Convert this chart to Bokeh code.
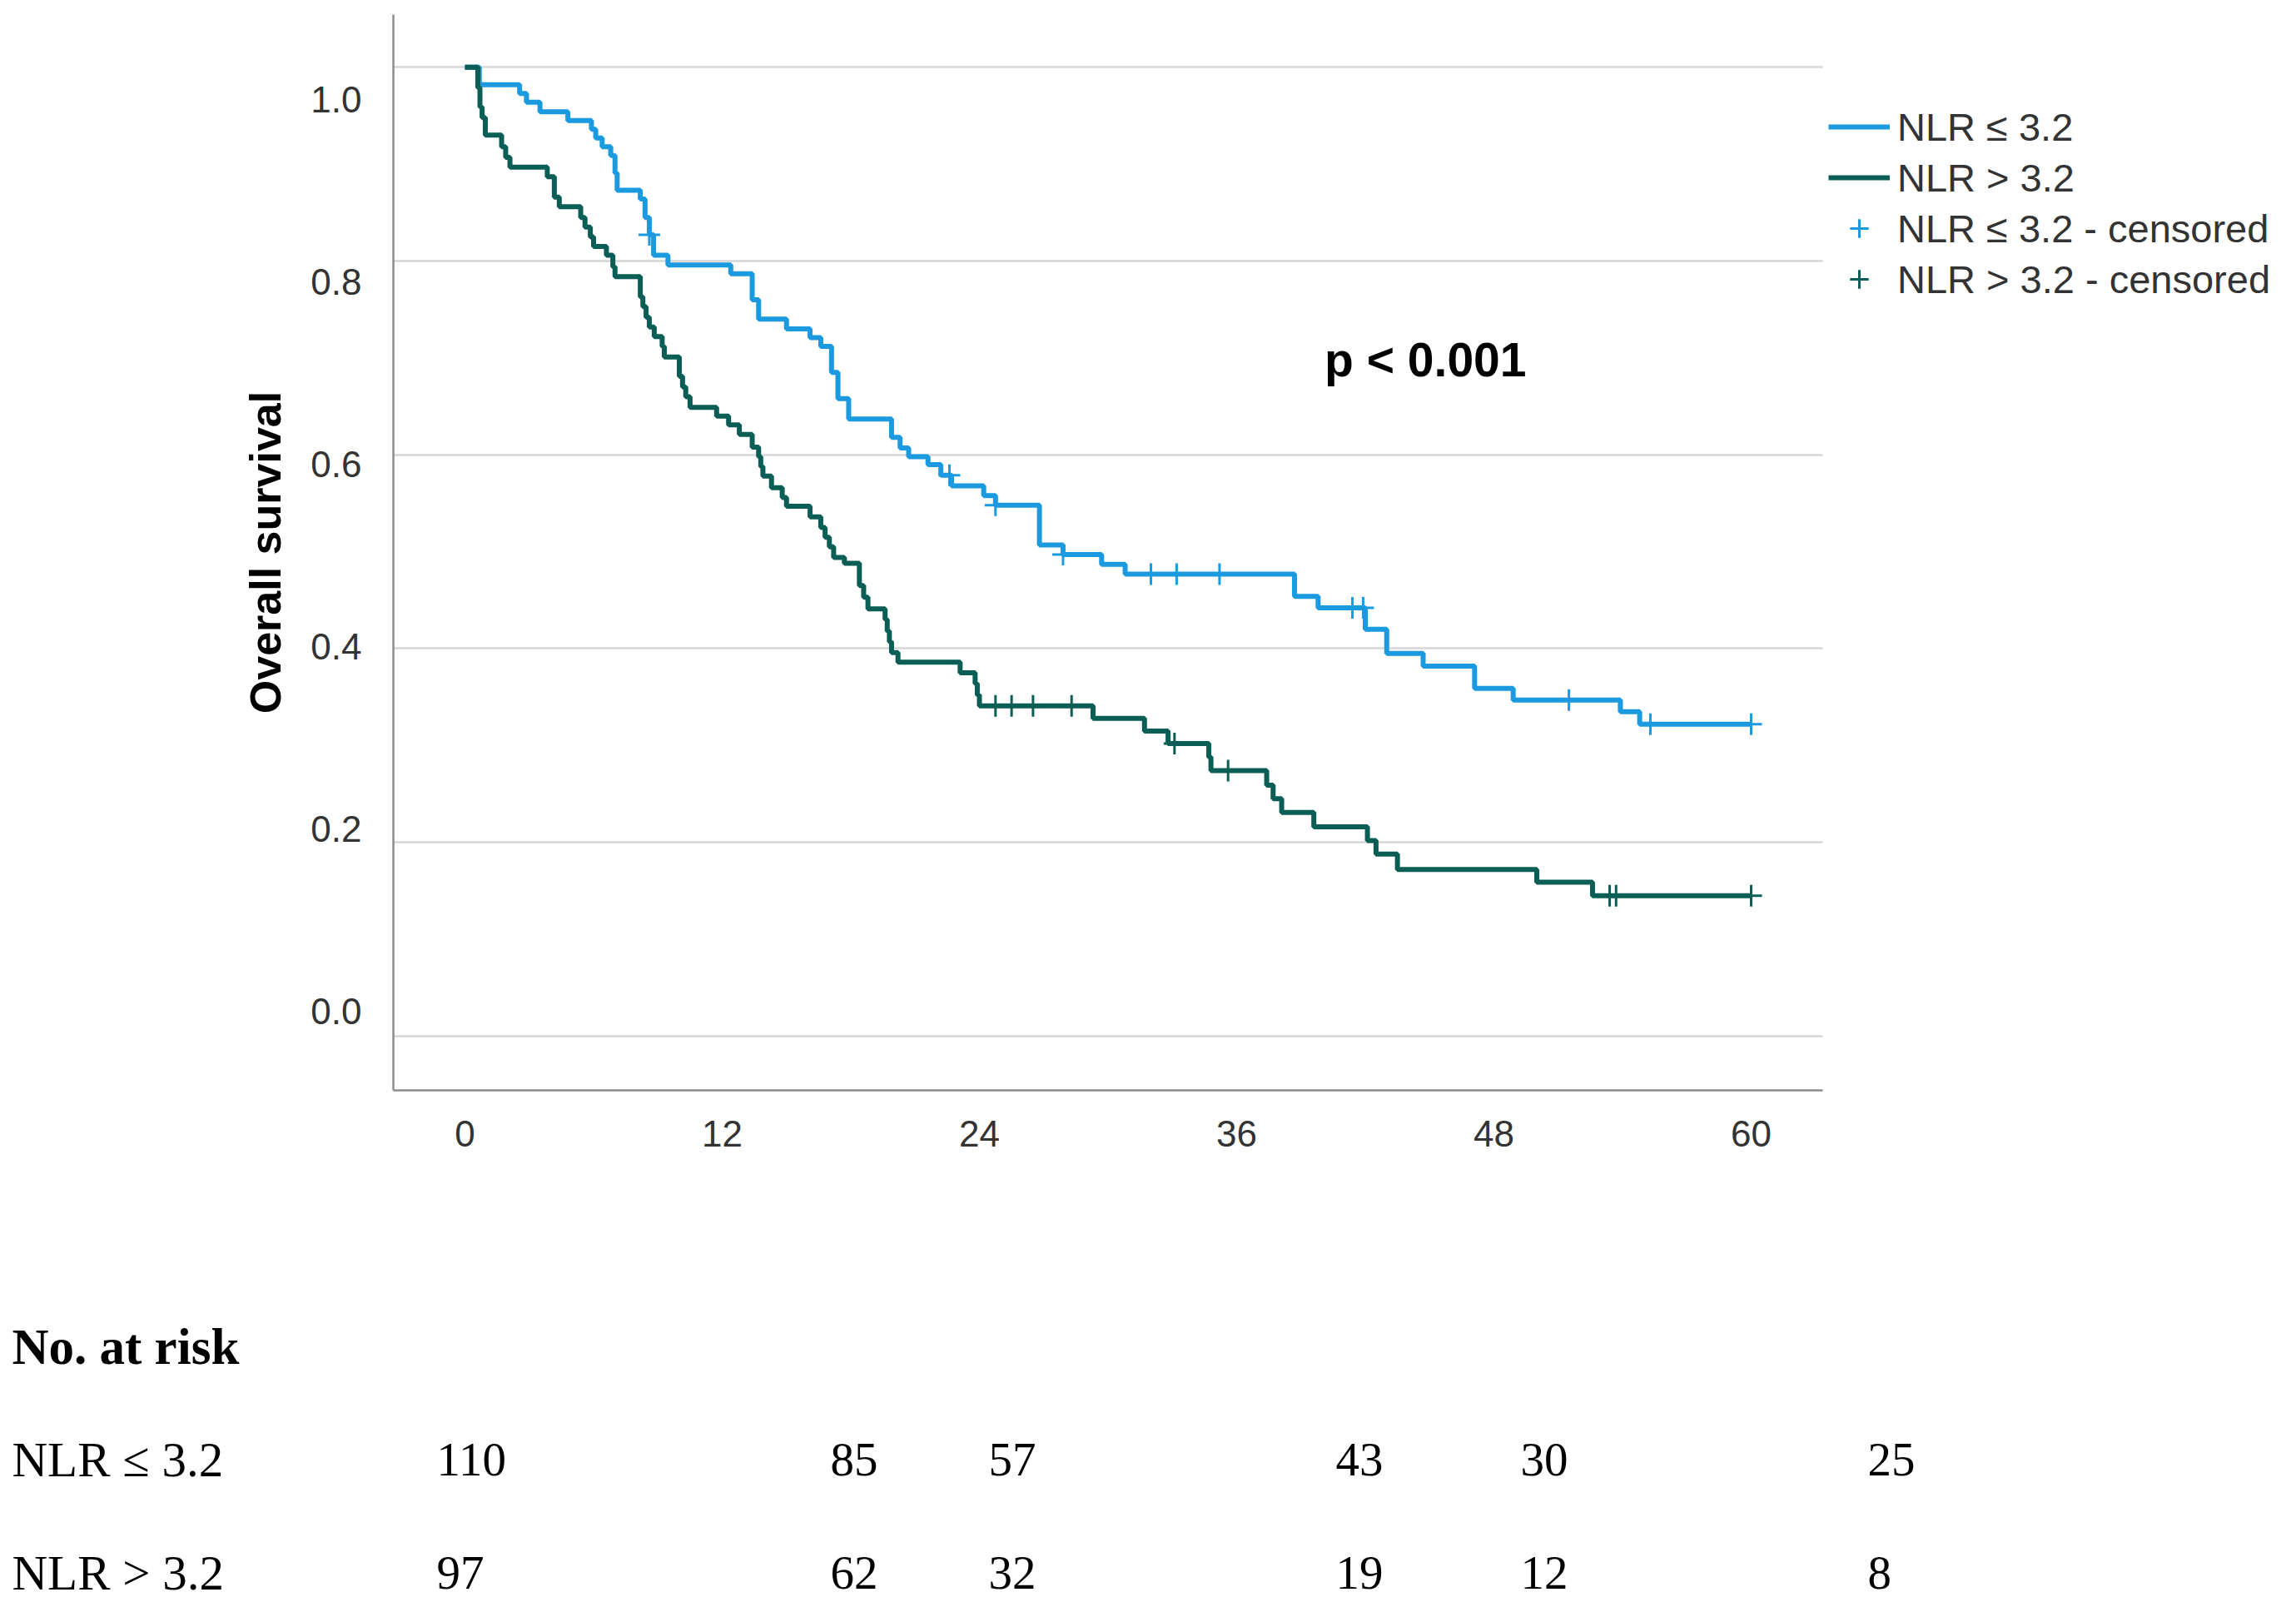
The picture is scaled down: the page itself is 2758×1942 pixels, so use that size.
import numpy as np
from bokeh.plotting import figure
from bokeh.layouts import column, row
from bokeh.models import (Range1d, LinearAxis, FixedTicker, NumeralTickFormatter, Grid,
                          Legend, LegendItem, Label)
from bokeh.core.properties import value
from bokeh.embed import file_html
from bokeh.resources import INLINE

# ---------------- data ----------------
group_labels = ["NLR \u2264 3.2", "NLR > 3.2"]
censor_suffix = " - censored"

low_time = [0, 0.67, 2.55, 2.87, 3.5, 4.8, 5.9, 6.1, 6.4, 6.8, 7.0, 7.1, 8.18, 8.4, 8.6,
            8.8, 9.47, 12.4, 13.4, 13.7, 15.0, 16.1, 16.6, 17.1, 17.4, 17.9, 19.9, 20.3,
            20.7, 21.6, 22.2, 22.7, 24.2, 24.75, 26.8, 27.9, 29.7, 30.8, 38.7, 39.8, 42.0,
            43.0, 44.7, 47.1, 48.9, 53.9, 54.8, 60.0]
low_surv = [1.0, 0.982, 0.973, 0.964, 0.954, 0.945, 0.936, 0.927, 0.918, 0.909, 0.891, 0.873,
            0.864, 0.845, 0.827, 0.806, 0.796, 0.787, 0.760, 0.740, 0.730, 0.721, 0.712, 0.685,
            0.658, 0.637, 0.618, 0.607, 0.598, 0.590, 0.579, 0.568, 0.558, 0.548, 0.507, 0.497,
            0.487, 0.477, 0.454, 0.442, 0.420, 0.395, 0.382, 0.359, 0.347, 0.335, 0.322, 0.322]
low_censored = [8.6, 22.6, 24.75, 27.9, 32.0, 33.2, 35.2, 41.4, 41.9, 51.5, 55.3, 60.0]

high_time = [0, 0.6, 0.7, 0.8, 0.95, 1.71, 1.9, 2.1, 3.84, 4.17, 4.4, 5.4, 5.6, 5.85, 6.0,
             6.6, 6.9, 7.0, 8.18, 8.3, 8.45, 8.6, 8.83, 9.2, 9.3, 10.0, 10.15, 10.3, 10.5,
             11.74, 12.3, 12.8, 13.4, 13.7, 13.8, 13.9, 14.3, 14.8, 15.0, 16.1, 16.6, 16.8,
             17.0, 17.2, 17.7, 18.4, 18.6, 18.8, 19.6, 19.7, 19.8, 19.9, 20.2, 23.1, 23.8,
             23.9, 24.0, 29.3, 31.7, 32.8, 34.7, 34.8, 37.4, 37.7, 38.1, 39.6, 42.1, 42.5,
             43.5, 50.0, 52.6, 60.0]
high_surv = [1.0, 0.979, 0.959, 0.948, 0.930, 0.918, 0.907, 0.897, 0.887, 0.866, 0.856, 0.845,
             0.835, 0.825, 0.815, 0.806, 0.794, 0.784, 0.763, 0.753, 0.742, 0.732, 0.722, 0.712,
             0.701, 0.681, 0.670, 0.660, 0.649, 0.640, 0.631, 0.621, 0.608, 0.598, 0.588, 0.578,
             0.566, 0.556, 0.547, 0.536, 0.525, 0.515, 0.505, 0.494, 0.488, 0.465, 0.453, 0.441,
             0.430, 0.418, 0.407, 0.396, 0.386, 0.375, 0.364, 0.352, 0.341, 0.328, 0.315, 0.302,
             0.288, 0.274, 0.259, 0.245, 0.231, 0.216, 0.202, 0.188, 0.172, 0.159, 0.145, 0.145]
high_censored = [24.75, 25.5, 26.5, 28.3, 33.1, 35.6, 53.4, 53.7, 60.0]

x_ticks = [0, 12, 24, 36, 48, 60]
y_ticks = [0.0, 0.2, 0.4, 0.6, 0.8, 1.0]
y_title = "Overall survival"
p_text = "p < 0.001"

risk_title = "No. at risk"
risk_low = [110, 85, 57, 43, 30, 25]
risk_high = [97, 62, 32, 19, 12, 8]

# ---------------- styles / layout ----------------
BLUE = "#1b9ae0"
GREEN = "#0b5e56"
TICK_COLOR = "#333333"
AXIS_COLOR = "#8c8c8c"
GRID_COLOR = "#d6d6d6"
W = 2742
TOP_H = 1450
TAB_H = 474
X_LO, X_HI = -3.34, 63.34          # visible axis extent
X_FRAME_HI = X_LO + (W - 472) / 25.75   # frame extends right to host the legend


def surv_at(times, surv, t):
    idx = np.searchsorted(np.asarray(times), np.asarray(t), side="right") - 1
    return list(np.asarray(surv)[idx])


p = figure(width=W, height=TOP_H, x_range=Range1d(X_LO, X_FRAME_HI), y_range=Range1d(-0.0559, 1.0544),
           output_backend="svg", toolbar_location=None, y_axis_location=None,
           min_border_left=472, min_border_right=0, min_border_top=17, min_border_bottom=141)
p.outline_line_color = None
p.background_fill_color = "white"
p.border_fill_color = "white"
p.xgrid.visible = False
p.ygrid.visible = False

# y-axis labels (SPSS offset mapping) on own range
p.extra_y_ranges = {"lab": Range1d(-0.0870, 1.0931)}
yax = LinearAxis(y_range_name="lab", ticker=FixedTicker(ticks=y_ticks),
                 formatter=NumeralTickFormatter(format="0.0"))
yax.axis_line_color = AXIS_COLOR
yax.axis_line_width = 2.5
yax.major_tick_line_color = None
yax.minor_tick_line_color = None
yax.major_label_standoff = 32
yax.major_label_text_font = "Liberation Sans"
yax.major_label_text_font_size = "44px"
yax.major_label_text_color = TICK_COLOR
yax.axis_label = y_title
yax.axis_label_text_font = "Liberation Sans"
yax.axis_label_text_font_style = "bold"
yax.axis_label_text_font_size = "52px"
yax.axis_label_text_color = "black"
yax.axis_label_standoff = 22
p.add_layout(yax, "left")

grid = Grid(dimension=1, ticker=FixedTicker(ticks=y_ticks), grid_line_color=GRID_COLOR,
            grid_line_width=2.5)
if "cross_bounds" in Grid.properties():
    grid.cross_bounds = (X_LO, X_HI)
p.add_layout(grid)

xax = p.xaxis[0]
xax.ticker = FixedTicker(ticks=x_ticks)
xax.bounds = (X_LO, X_HI)
xax.axis_line_color = AXIS_COLOR
xax.axis_line_width = 2.5
xax.major_tick_line_color = None
xax.minor_tick_line_color = None
xax.major_label_standoff = 30
xax.major_label_text_font = "Liberation Sans"
xax.major_label_text_font_size = "44px"
xax.major_label_text_color = TICK_COLOR

r_low = p.step(low_time, low_surv, mode="after", line_color=BLUE, line_width=6)
r_high = p.step(high_time, high_surv, mode="after", line_color=GREEN, line_width=6)
r_low_c = p.scatter(low_censored, surv_at(low_time, low_surv, low_censored), marker="cross",
                    size=26, line_color=BLUE, line_width=3)
r_high_c = p.scatter(high_censored, surv_at(high_time, high_surv, high_censored), marker="cross",
                     size=26, line_color=GREEN, line_width=3)

legend = Legend(items=[
    LegendItem(label=value(group_labels[0]), renderers=[r_low]),
    LegendItem(label=value(group_labels[1]), renderers=[r_high]),
    LegendItem(label=value(group_labels[0] + censor_suffix), renderers=[r_low_c]),
    LegendItem(label=value(group_labels[1] + censor_suffix), renderers=[r_high_c]),
], location=(1724, 946), orientation="vertical")
legend.border_line_color = None
legend.background_fill_alpha = 0
legend.padding = 0
legend.margin = 0
legend.spacing = 5
legend.glyph_width = 74
legend.glyph_height = 56
legend.label_height = 56
legend.label_standoff = 9
legend.label_text_font = "Liberation Sans"
legend.label_text_font_size = "47px"
legend.label_text_color = TICK_COLOR
p.add_layout(legend)

p.add_layout(Label(x=40.1, y=0.698, text=p_text, text_font="Liberation Sans",
                   text_font_style="bold", text_font_size="57px", text_color="black",
                   text_baseline="middle", text_align="left"))

# ---------------- number at risk table ----------------
t = figure(width=W, height=TAB_H, x_range=Range1d(0, W), y_range=Range1d(TAB_H, 0),
           output_backend="svg", toolbar_location=None, min_border=0,
           x_axis_location=None, y_axis_location=None)
t.outline_line_color = None
t.xgrid.visible = False
t.ygrid.visible = False
t.background_fill_color = "white"
t.border_fill_color = "white"

col_x = [524, 997, 1187, 1604, 1826, 2243]
label_x = 14
title_y = 167
row_y = [302, 438]
serif = value("Liberation Serif")

t.text(x=[label_x], y=[title_y], text=[risk_title], text_font=serif, text_font_style="bold",
       text_font_size="61px", text_baseline="middle", text_color="black")
for rows, yy, lab in [(risk_low, row_y[0], group_labels[0]), (risk_high, row_y[1], group_labels[1])]:
    t.text(x=[label_x], y=[yy], text=[lab], text_font=serif, text_font_size="59px",
           text_baseline="middle", text_color="black")
    t.text(x=col_x, y=[yy] * len(rows), text=[str(v) for v in rows], text_font=serif,
           text_font_size="57px", text_baseline="middle", text_color="black")

layout = column(p, row(t))
open("out.html", "w").write(file_html(layout, INLINE))
